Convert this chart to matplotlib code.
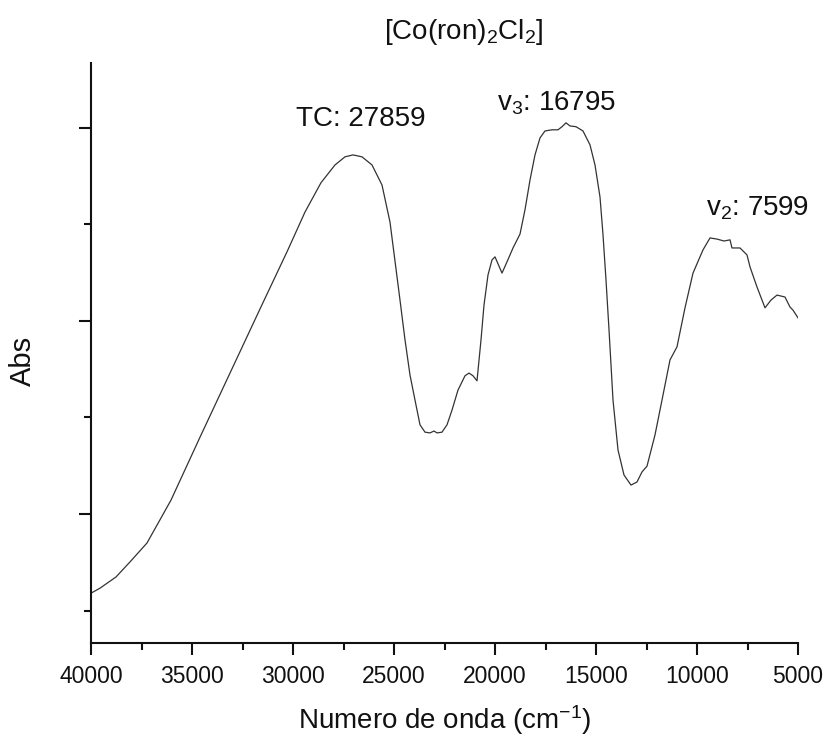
import matplotlib
matplotlib.use("Agg")
import matplotlib.pyplot as plt
from matplotlib.ticker import MultipleLocator, FixedLocator

plt.rcParams['font.family'] = ['Liberation Sans', 'DejaVu Sans']
plt.rcParams['mathtext.fontset'] = 'custom'
plt.rcParams['mathtext.rm'] = 'Liberation Sans'
plt.rcParams['mathtext.it'] = 'Liberation Sans'

# Spectrum (wavenumber in cm^-1, absorbance in arbitrary units)
wavenumber = [40000, 39554, 38762, 38069, 37228, 36040, 34604, 33119, 31634, 30297,
              29406, 28614, 27921, 27426, 27030, 26584, 26089, 25594, 25198, 24703,
              24455, 24208, 23960, 23713, 23465, 23218, 23020, 22871, 22624, 22376,
              22129, 21832, 21485, 21287, 21089, 20891, 20693, 20545, 20347, 20149,
              20000, 19851, 19653, 19406, 19109, 18762, 18515, 18267, 18020, 17772,
              17525, 17178, 16881, 16683, 16485, 16287, 15990, 15644, 15297, 15050,
              14802, 14653, 14505, 14356, 14158, 13911, 13614, 13267, 12970, 12723,
              12475, 12079, 11733, 11337, 10990, 10594, 10198, 9703, 9356, 9010,
              8663, 8366, 8267, 7871, 7525, 7376, 7030, 6634, 6337, 6040,
              5644, 5396, 5248, 5000]
absorbance = [0.295, 0.308, 0.337, 0.376, 0.425, 0.536, 0.699, 0.865, 1.031, 1.179,
              1.282, 1.358, 1.404, 1.425, 1.430, 1.425, 1.404, 1.352, 1.256, 1.054,
              0.951, 0.860, 0.795, 0.731, 0.712, 0.710, 0.715, 0.710, 0.712, 0.731,
              0.769, 0.821, 0.858, 0.865, 0.858, 0.845, 0.951, 1.041, 1.119, 1.158,
              1.166, 1.148, 1.124, 1.153, 1.189, 1.225, 1.288, 1.365, 1.430, 1.474,
              1.492, 1.495, 1.495, 1.503, 1.513, 1.505, 1.503, 1.492, 1.456, 1.404,
              1.321, 1.223, 1.106, 0.977, 0.795, 0.666, 0.601, 0.575, 0.583, 0.609,
              0.624, 0.705, 0.795, 0.899, 0.933, 1.034, 1.124, 1.184, 1.215, 1.212,
              1.207, 1.210, 1.189, 1.189, 1.171, 1.140, 1.088, 1.034, 1.054, 1.067,
              1.062, 1.036, 1.028, 1.008]

x_ticks = [40000, 35000, 30000, 25000, 20000, 15000, 10000, 5000]
x_tick_labels = ["40000", "35000", "30000", "25000", "20000", "15000", "10000", "5000"]

peak_labels = ["TC: 27859", r"v$_3$: 16795", r"v$_2$: 7599"]
peak_x = [26635, 16933, 6983]
peak_y = [1.505, 1.545, 1.272]

fig = plt.figure(figsize=(8.26, 7.41), dpi=100)
ax = fig.add_axes([91/826, 1 - 643/741, (798 - 91)/826, (643 - 63)/741])

ax.plot(wavenumber, absorbance, color='#333333', lw=0.9)

ax.set_xlim(40000, 5000)
ax.set_ylim(0.166, 1.668)

ax.xaxis.set_major_locator(FixedLocator(x_ticks))
ax.set_xticklabels(x_tick_labels)
ax.xaxis.set_minor_locator(MultipleLocator(2500))
ax.yaxis.set_major_locator(MultipleLocator(0.5))
ax.yaxis.set_minor_locator(FixedLocator([0.25, 0.75, 1.25]))
ax.set_yticklabels([])

for s in ['top', 'right']:
    ax.spines[s].set_visible(False)
for s in ['left', 'bottom']:
    ax.spines[s].set_linewidth(1.5)
    ax.spines[s].set_color('#111111')

ax.tick_params(axis='both', which='major', direction='out', length=8.6, width=1.5,
               labelsize=16.5, colors='#111111', pad=7.5)
ax.tick_params(axis='both', which='minor', direction='out', length=4.8, width=1.5,
               colors='#111111')
ax.tick_params(axis='y', which='both', labelleft=False)

ax.set_xlabel(r"Numero de onda (cm$^{-1}$)", fontsize=20, color='#111111')
ax.xaxis.label.set_va('center')
ax.xaxis.set_label_coords(0.5, (643 - 720) / 580)
ax.set_ylabel("Abs", fontsize=21, color='#111111')
ax.yaxis.label.set_va('center')
ax.yaxis.set_label_coords((23 - 91) / 707, (643 - 361) / 580)

fig.text(464/826, 1 - 32/741, r"[Co(ron)$_2$Cl$_2$]", fontsize=20, ha='center',
         va='center', color='#111111')

for lab, px, py in zip(peak_labels, peak_x, peak_y):
    ax.text(px, py, lab, fontsize=20, ha='center', va='baseline', color='#111111')

fig.savefig("out.png", dpi=100)
